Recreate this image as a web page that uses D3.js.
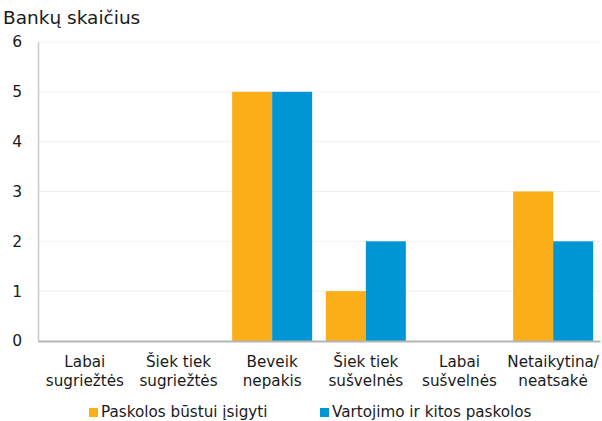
<!DOCTYPE html>
<html><head><meta charset="utf-8">
<script src="https://cdn.jsdelivr.net/npm/d3@7"></script>
<style>body{margin:0;background:#fff;} svg{display:block;font-family:"DejaVu Sans",sans-serif;}</style>
</head><body>
<svg id="c" width="602" height="421"></svg>
<script>
const categories = [["Labai","sugriežtės"],["Šiek tiek","sugriežtės"],["Beveik","nepakis"],["Šiek tiek","sušvelnės"],["Labai","sušvelnės"],["Netaikytina/","neatsakė"]];
const seriesNames = ["Paskolos būstui įsigyti","Vartojimo ir kitos paskolos"];
const housing = [0,0,5,1,0,3];
const consumer = [0,0,5,2,0,2];
const yTicks = [0,1,2,3,4,5,6];
const colors = ["#FBAE17","#0096D6"];
const FF = "'DejaVu Sans',sans-serif";
const TXT = "#1a1a1a";

const svg = d3.select("#c");
const m = {l:38, r:600, t:42, b:341};
const x = d3.scaleBand().domain(d3.range(categories.length)).range([m.l,m.r]).paddingInner(0.146).paddingOuter(0.073);
const x1 = d3.scaleBand().domain([0,1]).range([0,x.bandwidth()]);
const y = d3.scaleLinear().domain([0,6]).range([m.b,m.t]);

svg.append("g").selectAll("line").data(yTicks.filter(d=>d>0)).join("line")
  .attr("x1",m.l).attr("x2",m.r).attr("y1",d=>y(d)).attr("y2",d=>y(d))
  .attr("stroke","#f0f0f0").attr("stroke-width",1);

const data = [housing, consumer];
const g = svg.append("g");
data.forEach((s,si)=>{
  g.selectAll(null).data(s).join("rect")
    .attr("x",(d,i)=>x(i)+x1(si)).attr("width",x1.bandwidth())
    .attr("y",d=>y(d)).attr("height",d=>y(0)-y(d))
    .attr("fill",colors[si]);
});

const ya = d3.axisLeft(y).tickValues(yTicks).tickFormat(d3.format("d")).tickSize(0).tickPadding(16);
const yg = svg.append("g").attr("transform",`translate(${m.l},0)`).call(ya);
yg.select(".domain").attr("stroke","#c8c8c8").attr("stroke-width",1.5);
yg.selectAll("text").attr("font-size",15.5).attr("fill",TXT).attr("font-family",FF);

const xa = d3.axisBottom(x).tickSize(0).tickFormat("");
const xg = svg.append("g").attr("transform",`translate(0,${m.b})`).call(xa);
xg.select(".domain").attr("stroke","#b4b4b4").attr("stroke-width",2);
xg.selectAll(".tick").each(function(d){
  const t = d3.select(this).append("text").attr("fill",TXT).attr("font-size",15.2).attr("font-family",FF).attr("text-anchor","middle");
  categories[d].forEach((ln,k)=>t.append("tspan").attr("x",0).attr("y",26+k*19).text(ln));
});

svg.append("text").attr("x",3).attr("y",24).attr("font-size",18.5).attr("font-family",FF).attr("fill",TXT).text("Bankų skaičius");

const lx = [89, 320];
seriesNames.forEach((n,i)=>{
  svg.append("rect").attr("x",lx[i]).attr("y",408).attr("width",9).attr("height",9).attr("fill",colors[i]);
  svg.append("text").attr("x",lx[i]+12).attr("y",417).attr("font-size",15.2).attr("font-family",FF).attr("fill",TXT).text(n);
});
</script>
</body></html>
